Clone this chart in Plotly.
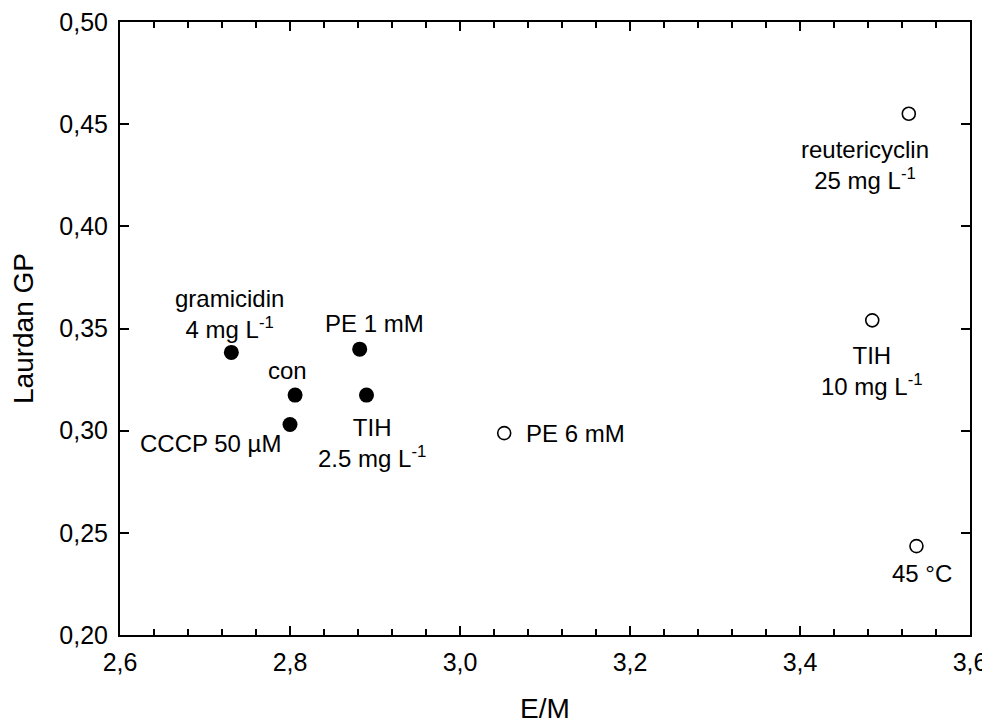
import plotly.graph_objects as go

# Data
filled_labels = ["gramicidin<br>4 mg L<sup>-1</sup>", "con", "CCCP 50 µM", "PE 1 mM", "TIH<br>2.5 mg L<sup>-1</sup>"]
filled_em = [2.731, 2.806, 2.800, 2.882, 2.890]
filled_gp = [0.3383, 0.3174, 0.3030, 0.3399, 0.3174]

open_labels = ["PE 6 mM", "reutericyclin<br>25 mg L<sup>-1</sup>", "TIH<br>10 mg L<sup>-1</sup>", "45 °C"]
open_em = [3.052, 3.528, 3.485, 3.537]
open_gp = [0.2988, 0.4551, 0.3540, 0.2435]

x_ticks = [2.6, 2.8, 3.0, 3.2, 3.4, 3.6]
y_ticks = [0.20, 0.25, 0.30, 0.35, 0.40, 0.45, 0.50]

# label placement (styles): (xanchor, xshift, yshift)
filled_pos = [("center", -2, 38), ("center", -8, 25), ("right", -7, -19), ("center", 15, 26), ("center", 5, -48)]
open_pos = [("left", 20, 0), ("center", -44, -51), ("center", 0, -51), ("center", 6, -27)]

FONT = "Liberation Sans, Arial, sans-serif"
FS = 24
TKFS = 25
TFS = 28

fig = go.Figure()
fig.add_trace(go.Scatter(x=filled_em, y=filled_gp, mode="markers",
                         marker=dict(size=15, color="black", line=dict(width=0)),
                         showlegend=False, hoverinfo="skip"))
fig.add_trace(go.Scatter(x=open_em, y=open_gp, mode="markers",
                         marker=dict(size=13, color="white", line=dict(width=1.6, color="black")),
                         showlegend=False, hoverinfo="skip"))

for lbl, x, y, (xa, xs, ys) in zip(filled_labels + open_labels, filled_em + open_em,
                                     filled_gp + open_gp, filled_pos + open_pos):
    fig.add_annotation(x=x, y=y, xref="x", yref="y", text=lbl, showarrow=False,
                       xanchor=xa, yanchor="middle", xshift=xs, yshift=ys,
                       font=dict(family=FONT, size=FS, color="black"), align="center")

axis_common = dict(showline=True, linecolor="black", linewidth=2, mirror="ticks",
                   ticks="inside", tickwidth=2, tickcolor="black", ticklen=9,
                   showgrid=False, zeroline=False, automargin=False,
                   ticklabeloverflow="allow",
                   tickfont=dict(family=FONT, size=TKFS, color="black"))

fig.update_xaxes(range=[2.6, 3.6], tickvals=x_ticks, tickformat=".1f",
                 minor=dict(dtick=0.04, tick0=2.6, ticks="inside", ticklen=6, tickwidth=2, tickcolor="black", showgrid=False),
                 title=dict(text="E/M", font=dict(family=FONT, size=TFS, color="black"), standoff=25),
                 ticklabelstandoff=4,
                 **axis_common)
fig.update_yaxes(range=[0.20, 0.50], tickvals=y_ticks, tickformat=".2f",
                 title=dict(text="Laurdan GP", font=dict(family=FONT, size=TFS, color="black"), standoff=20),
                 ticklabelstandoff=5,
                 **axis_common)

# page body has an 8px margin: figure is offset by (8, 8)
fig.update_layout(width=982, height=716, separators=", ",
                  margin=dict(l=112, r=20, t=14, b=89),
                  plot_bgcolor="white", paper_bgcolor="white")

fig.write_html("out.html")
